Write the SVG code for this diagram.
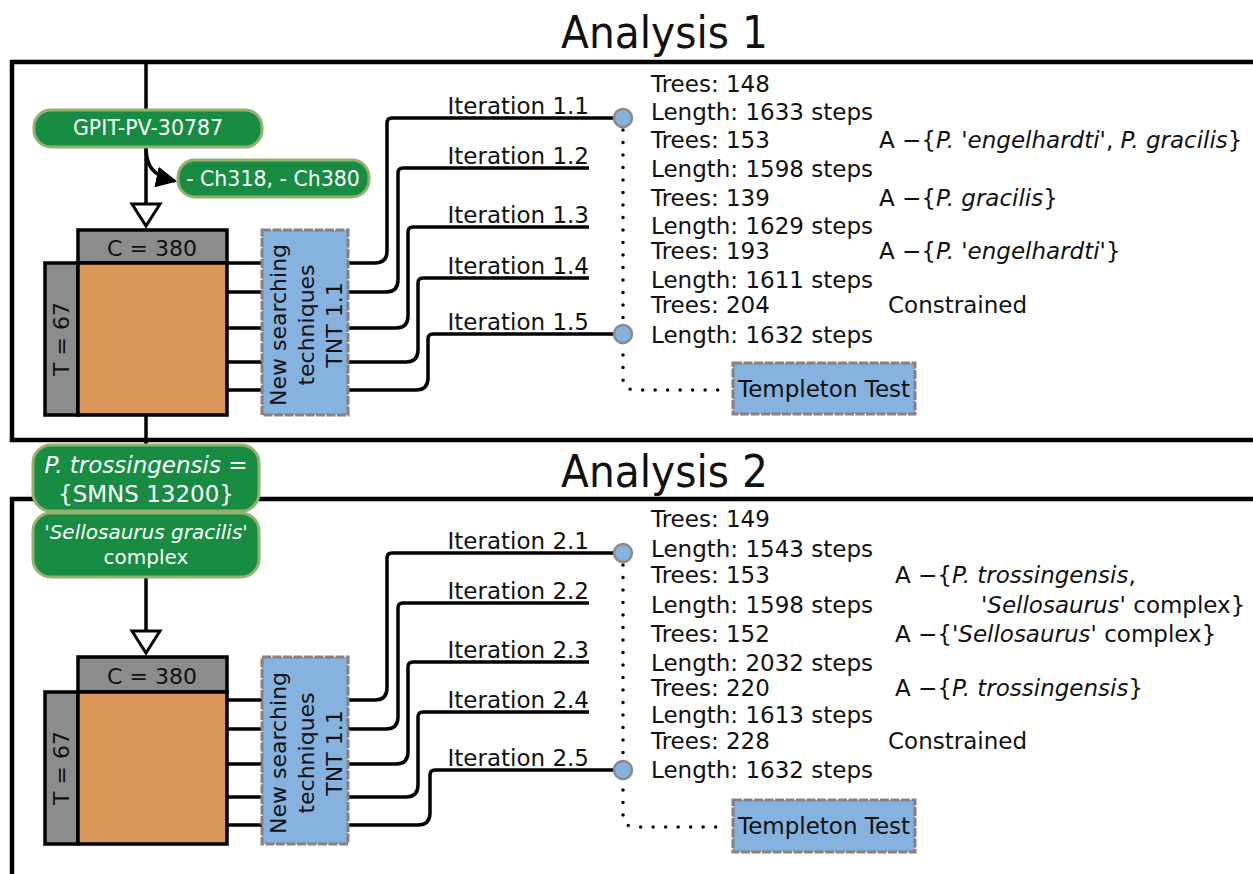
<svg xmlns="http://www.w3.org/2000/svg" width="1253" height="874" viewBox="0 0 1253 874">
<defs>
<style>
text{font-family:"DejaVu Sans","Verdana",sans-serif;fill:#111}
.title{font-size:44px}
.b{font-size:23px}
.it{font-style:italic}
.w{fill:#fff}
.frame{fill:none;stroke:#000;stroke-width:4.5}
.ln{fill:none;stroke:#000;stroke-width:3.5}
.dot{fill:none;stroke:#000;stroke-width:3.5;stroke-linecap:round;stroke-dasharray:0 12.5}
.green{fill:#178c42;stroke:#93b06e;stroke-width:3}
.gray{fill:#8c8c8c;stroke:#000;stroke-width:3.5}
.orange{fill:#d9985a;stroke:#000;stroke-width:3.5}
.blue{fill:#85b2df;stroke:#8a8080;stroke-width:3;stroke-dasharray:9 1.5}
.circ{fill:#85b2df;stroke:#8a8a8a;stroke-width:2.5}
.tri{fill:#fff;stroke:#000;stroke-width:3}
</style>
<marker id="ah" viewBox="0 0 10 10" refX="9" refY="5" markerWidth="6" markerHeight="6" orient="auto" markerUnits="strokeWidth">
<path d="M0,0 L10,5 L0,10 z" fill="#000"/>
</marker>
</defs>

<g id="frames">
<path class="frame" d="M1260,62 H12 V440 H1260"/>
<path class="frame" d="M1260,499 H12 V880"/>
</g>

<text class="title" x="561" y="48" textLength="207" lengthAdjust="spacingAndGlyphs">Analysis 1</text>
<text class="title" x="561" y="487" textLength="207" lengthAdjust="spacingAndGlyphs">Analysis 2</text>

<g id="connectors">
<path class="ln" d="M146,62 V204"/>
<path class="ln" d="M146,415 V446"/>
<path class="ln" d="M146,147 C146,165 152,176 175,181" marker-end="url(#ah)"/>
<path class="ln" d="M146,577 V631"/>
<path class="ln" d="M227,263 H262 M227,292 H262 M227,328 H262 M227,362 H262 M227,390 H262"/>
<path class="ln" d="M227,700 H262 M227,729 H262 M227,764 H262 M227,797 H262 M227,825 H262"/>
<path class="ln" d="M348,263 H375 Q387,263 387,251 V123 Q387,118 392,118 H614"/>
<path class="ln" d="M348,292 H386 Q398,292 398,280 V173 Q398,168 403,168 H589"/>
<path class="ln" d="M348,328 H396 Q408,328 408,316 V232 Q408,227 413,227 H589"/>
<path class="ln" d="M348,362 H406 Q418,362 418,350 V283 Q418,278 423,278 H589"/>
<path class="ln" d="M348,390 H416 Q428,390 428,378 V339 Q428,334 433,334 H614"/>
<path class="ln" d="M348,700 H375 Q387,700 387,688 V558 Q387,553 392,553 H614"/>
<path class="ln" d="M348,729 H386 Q398,729 398,717 V608 Q398,603 403,603 H589"/>
<path class="ln" d="M348,764 H396 Q408,764 408,752 V667 Q408,662 413,662 H589"/>
<path class="ln" d="M348,797 H406 Q418,797 418,785 V717 Q418,712 423,712 H589"/>
<path class="ln" d="M348,825 H418 Q430,825 430,813 V775 Q430,770 435,770 H614"/>
<path class="dot" d="M623,130 V378 Q623,390 635,390 H727"/>
<path class="dot" d="M623,565 V815 Q623,827 635,827 H727"/>
</g>

<g id="triangle1"><polygon class="tri" points="132,204 160,204 146,226"/></g>
<g id="triangle2"><polygon class="tri" points="132,631 160,631 146,653"/></g>

<g id="gpit">
<rect class="green" x="34" y="110" width="228" height="37" rx="17"/>
<text class="w" x="148" y="135" font-size="20.5" text-anchor="middle">GPIT-PV-30787</text>
</g>
<g id="ch">
<rect class="green" x="178" y="160" width="191" height="37" rx="17"/>
<text class="w" x="273" y="186" font-size="20.5" text-anchor="middle">- Ch318, - Ch380</text>
</g>

<g id="matrix1">
<rect class="gray" x="78" y="230" width="149" height="33"/>
<text x="152" y="256" font-size="22" text-anchor="middle">C = 380</text>
<rect class="gray" x="45" y="263" width="33" height="152"/>
<text transform="translate(69,339) rotate(-90)" font-size="22" text-anchor="middle">T = 67</text>
<rect class="orange" x="78" y="263" width="149" height="152"/>
</g>
<g id="tnt1">
<rect class="blue" x="262" y="230" width="86" height="185"/>
<text transform="translate(305,325) rotate(-90)" font-size="22" text-anchor="middle"><tspan x="0" y="-19">New searching</tspan><tspan x="0" y="9">techniques</tspan><tspan x="0" y="37">TNT 1.1</tspan></text>
</g>

<g id="iter1">
<text class="b" x="589" y="114" text-anchor="end">Iteration 1.1</text>
<text class="b" x="589" y="164" text-anchor="end">Iteration 1.2</text>
<text class="b" x="589" y="223" text-anchor="end">Iteration 1.3</text>
<text class="b" x="589" y="274" text-anchor="end">Iteration 1.4</text>
<text class="b" x="589" y="330" text-anchor="end">Iteration 1.5</text>
</g>
<g id="circles1">
<circle class="circ" cx="623" cy="118" r="9"/>
<circle class="circ" cx="623" cy="334" r="9"/>
</g>
<g id="results1">
<text class="b" x="651" y="92">Trees: 148</text>
<text class="b" x="651" y="120">Length: 1633 steps</text>
<text class="b" x="651" y="148">Trees: 153</text>
<text class="b" x="879" y="148">A −{<tspan class="it">P. 'engelhardti'</tspan>, <tspan class="it">P. gracilis</tspan>}</text>
<text class="b" x="651" y="177">Length: 1598 steps</text>
<text class="b" x="651" y="206">Trees: 139</text>
<text class="b" x="879" y="206">A −{<tspan class="it">P. gracilis</tspan>}</text>
<text class="b" x="651" y="234">Length: 1629 steps</text>
<text class="b" x="651" y="259">Trees: 193</text>
<text class="b" x="879" y="259">A −{<tspan class="it">P. 'engelhardti'</tspan>}</text>
<text class="b" x="651" y="288">Length: 1611 steps</text>
<text class="b" x="651" y="313">Trees: 204</text>
<text class="b" x="888" y="313">Constrained</text>
<text class="b" x="651" y="343">Length: 1632 steps</text>
</g>
<g id="templeton1">
<rect class="blue" x="733" y="363" width="182" height="51"/>
<text class="b" x="738" y="397">Templeton Test</text>
</g>

<g id="trossingensis">
<rect class="green" x="33" y="445" width="226" height="66" rx="18"/>
<text class="w" x="146" y="473" font-size="23" text-anchor="middle"><tspan class="it">P. trossingensis</tspan> =</text>
<text class="w" x="146" y="502" font-size="23" text-anchor="middle">{SMNS 13200}</text>
</g>
<g id="sellosaurus">
<rect class="green" x="33" y="513" width="226" height="64" rx="18"/>
<text class="w" x="146" y="539" font-size="20" text-anchor="middle">'<tspan class="it">Sellosaurus gracilis</tspan>'</text>
<text class="w" x="146" y="564" font-size="20" text-anchor="middle">complex</text>
</g>

<g id="matrix2">
<rect class="gray" x="78" y="657" width="149" height="35"/>
<text x="152" y="684" font-size="22" text-anchor="middle">C = 380</text>
<rect class="gray" x="45" y="692" width="33" height="152"/>
<text transform="translate(69,768) rotate(-90)" font-size="22" text-anchor="middle">T = 67</text>
<rect class="orange" x="78" y="692" width="149" height="152"/>
</g>
<g id="tnt2">
<rect class="blue" x="262" y="657" width="86" height="187"/>
<text transform="translate(305,753) rotate(-90)" font-size="22" text-anchor="middle"><tspan x="0" y="-19">New searching</tspan><tspan x="0" y="9">techniques</tspan><tspan x="0" y="37">TNT 1.1</tspan></text>
</g>

<g id="iter2">
<text class="b" x="589" y="549" text-anchor="end">Iteration 2.1</text>
<text class="b" x="589" y="599" text-anchor="end">Iteration 2.2</text>
<text class="b" x="589" y="658" text-anchor="end">Iteration 2.3</text>
<text class="b" x="589" y="708" text-anchor="end">Iteration 2.4</text>
<text class="b" x="589" y="766" text-anchor="end">Iteration 2.5</text>
</g>
<g id="circles2">
<circle class="circ" cx="623" cy="553" r="9"/>
<circle class="circ" cx="623" cy="770" r="9"/>
</g>
<g id="results2">
<text class="b" x="651" y="527">Trees: 149</text>
<text class="b" x="651" y="557">Length: 1543 steps</text>
<text class="b" x="651" y="583">Trees: 153</text>
<text class="b" x="895" y="583">A −{<tspan class="it">P. trossingensis</tspan>,</text>
<text class="b" x="651" y="613">Length: 1598 steps</text>
<text class="b" x="981" y="613">'<tspan class="it">Sellosaurus</tspan>' complex}</text>
<text class="b" x="651" y="642">Trees: 152</text>
<text class="b" x="895" y="642">A −{'<tspan class="it">Sellosaurus</tspan>' complex}</text>
<text class="b" x="651" y="671">Length: 2032 steps</text>
<text class="b" x="651" y="696">Trees: 220</text>
<text class="b" x="895" y="696">A −{<tspan class="it">P. trossingensis</tspan>}</text>
<text class="b" x="651" y="723">Length: 1613 steps</text>
<text class="b" x="651" y="749">Trees: 228</text>
<text class="b" x="888" y="749">Constrained</text>
<text class="b" x="651" y="778">Length: 1632 steps</text>
</g>
<g id="templeton2">
<rect class="blue" x="733" y="800" width="182" height="52"/>
<text class="b" x="738" y="834">Templeton Test</text>
</g>
</svg>
